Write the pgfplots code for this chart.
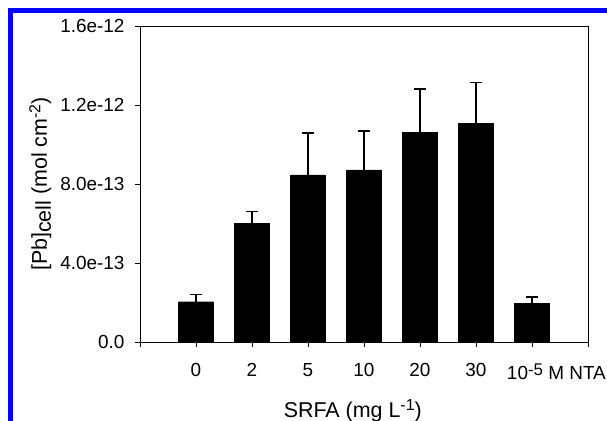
\documentclass[border=0pt]{standalone}
\usepackage{fontspec}
\setmainfont{Liberation Sans}
\usepackage{pgfplots}
\pgfplotsset{compat=1.18}
\definecolor{frameblue}{RGB}{0,0,255}
\begin{document}
\begin{tikzpicture}
\path[use as bounding box] (0,0) rectangle (607bp,421bp);
\draw[frameblue, line width=5bp] (10bp,-5bp) -- (10bp,410.5bp) -- (612bp,410.5bp);
\begin{axis}[
  at={(140bp,79bp)}, anchor=south west, scale only axis,
  width=448bp, height=316bp,
  xmin=-1, xmax=7, ymin=0, ymax=16,
  xtick={-1,0,1,2,3,4,5,6,7},
  xticklabels={,0,2,5,10,20,30,{\makebox[0pt][l]{\hspace*{-25bp}10\raisebox{4.5bp}{\fontsize{17}{17}\selectfont -5} M NTA}},},
  ytick={0,4,8,12,16},
  yticklabels={0.0,4.0e-13,8.0e-13,1.2e-12,1.6e-12},
  tick align=outside, major tick length=5bp,
  xtick pos=bottom, ytick pos=left,
  axis line style={line width=0.9bp},
  tick style={line width=0.9bp, black},
  /pgf/number format/assume math mode=true,
  ticklabel style={font=\fontsize{19}{22}\selectfont},
  xticklabel style={yshift=-13bp},
  yticklabel style={xshift=-7bp},
  xlabel={\fontsize{21.5}{24}\selectfont SRFA (mg L\raisebox{6.5bp}{\fontsize{16}{16}\selectfont -1})},
  ylabel={\fontsize{21.5}{24}\selectfont [Pb]\raisebox{-0.35ex}{cell} (mol cm\raisebox{6.5bp}{\fontsize{16}{16}\selectfont -2})},
  xlabel style={at={(axis description cs:0.475,0)}, anchor=base, yshift=-75bp},
  ylabel style={at={([xshift=-93bp]axis description cs:0,0.5)}, anchor=base},
]
\addplot[ybar, bar width=34.7bp, fill=black, draw=black,
  error bars/.cd, y dir=plus, y explicit,
  error bar style={line width=1.5bp, black},
  error mark options={rotate=90, mark size=6bp, line width=1.5bp, black}]
  table[x=x, y=y, y error=e] {
x y e
0 2.04 0.37
1 6.00 0.62
2 8.46 2.12
3 8.71 1.97
4 10.60 2.21
5 11.07 2.06
6 1.97 0.31
};
\end{axis}
\end{tikzpicture}
\end{document}
